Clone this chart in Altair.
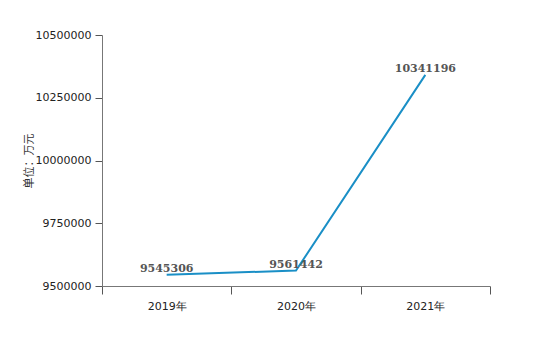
import altair as alt
import pandas as pd

years = ["2019年", "2020年", "2021年"]
values = [9545306, 9561442, 10341196]
y_ticks = [9500000, 9750000, 10000000, 10250000, 10500000]

df = pd.DataFrame({"year": years, "value": values})

base = alt.Chart(df).encode(
    x=alt.X("year:N", sort=years,
            scale=alt.Scale(paddingInner=0, paddingOuter=0),
            axis=alt.Axis(title=None, labelAngle=0, tickBand="extent",
                          labelFontSize=11, labelColor="#222", labelPadding=6,
                          tickSize=8, tickColor="#555", domainColor="#777",
                          labelFont="DejaVu Sans")),
    y=alt.Y("value:Q",
            scale=alt.Scale(domain=[9500000, 10500000], nice=False, zero=False),
            axis=alt.Axis(title="单位：万元", values=y_ticks, format="d",
                          titleFontSize=11, titleFontWeight="normal", titleColor="#333",
                          titlePadding=1, titleFont="Noto Sans CJK SC",
                          labelFontSize=11, labelColor="#222", labelPadding=4,
                          tickSize=7, tickColor="#555", domainColor="#777",
                          labelFont="DejaVu Sans", grid=False)),
)

line = base.mark_line(color="#1a8fc6", strokeWidth=2)
labels = base.mark_text(dy=-1, baseline="bottom", fontWeight="bold", fontSize=11, color="#555",
                        font="DejaVu Serif").encode(text=alt.Text("value:Q", format="d"))

chart = (line + labels).properties(
    width=388, height=251,
    background="white",
    autosize=alt.AutoSizeParams(type="none"),
    padding={"left": 102, "top": 35, "right": 70, "bottom": 60},
).configure_view(strokeWidth=0, stroke=None)

chart.save("out.html", embed_options={"renderer": "svg", "actions": False})
